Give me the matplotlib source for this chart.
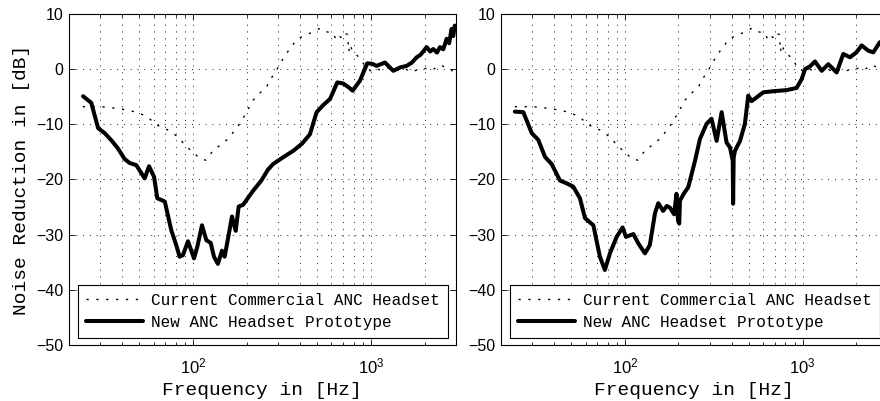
import matplotlib
matplotlib.use('Agg')
import matplotlib.pyplot as plt
from matplotlib.ticker import LogLocator, NullFormatter, FixedLocator

plt.rcParams['font.family'] = ['Liberation Sans', 'DejaVu Sans']
plt.rcParams['mathtext.fontset'] = 'custom'
plt.rcParams['mathtext.rm'] = 'Liberation Sans'

# commercial headset (same curve in both panels)
comm_f = [24, 26, 30, 35, 42.5, 48, 52.6, 57, 62.5, 70, 77.5, 85, 92, 100, 109, 118,
          130, 142, 155, 170, 184, 200, 218, 238, 259, 277, 295, 315, 336, 358, 382,
          410, 440, 474, 517, 560, 614, 640, 669, 700, 720, 740, 750, 765, 780, 810,
          849, 900, 946, 1000, 1060, 1124, 1200, 1335, 1450, 1560, 1656, 1800, 2055,
          2200, 2443, 2650, 2840, 2950, 3000]
comm_v = [-6.8, -6.8, -6.8, -7.0, -7.4, -7.8, -8.3, -9.0, -10.1, -10.8, -11.6, -12.8,
          -14.1, -15.0, -16.2, -16.5, -14.7, -13.8, -12.8, -11.3, -9.8, -7.8, -5.6,
          -4.3, -3.2, -1.5, -0.15, 1.5, 2.9, 4.1, 5.3, 5.9, 6.3, 6.8, 7.4, 6.8, 6.5,
          5.2, 5.9, 5.5, 6.4, 6.3, 3.2, 4.5, 3.6, 2.8, 2.3, 1.2, 0.15, -0.3, 0.2,
          -0.15, 0.2, 0.15, -0.3, 0.1, -0.5, -0.2, 0.15, -0.2, 0.75, 0.3, -0.15,
          -1.0, -0.8]

# new prototype, left panel
left_f = [24.1, 26.8, 29.3, 31.9, 35, 37.9, 41.3, 44, 48, 53.5, 56.6, 60.4, 63, 69.4,
          75.5, 80.5, 84.1, 87.8, 93.7, 101.3, 105.7, 112.3, 118.8, 125.7, 131.2, 138,
          145.5, 150.6, 157.3, 165.6, 173.7, 180.6, 191, 217, 242, 264, 282, 320, 366,
          410, 454, 495, 540, 589, 647, 699, 750, 789, 867, 953, 1010, 1076, 1199,
          1335, 1456, 1588, 1700, 1807, 1900, 2057, 2150, 2240, 2350, 2443, 2550,
          2663, 2750, 2840, 2900, 2960, 3000]
left_v = [-4.9, -6.1, -10.7, -11.6, -13.0, -14.4, -16.3, -17.0, -17.4, -19.8, -17.6,
          -19.5, -23.4, -24.0, -29.2, -31.9, -34.0, -33.7, -31.2, -34.3, -32.2, -28.3,
          -31.0, -31.5, -34.0, -35.3, -32.9, -34.0, -30.7, -26.7, -29.3, -24.9, -24.6,
          -22.1, -20.2, -18.2, -17.2, -16.0, -14.8, -13.5, -11.8, -7.8, -6.5, -5.4,
          -2.4, -2.6, -3.3, -3.9, -2.1, 1.05, 1.0, 0.6, 1.2, -0.3, 0.3, 0.6, 1.2,
          2.15, 2.6, 4.0, 3.2, 3.65, 3.0, 4.0, 3.6, 5.5, 4.7, 7.3, 6.0, 7.9, 7.5]

# new prototype, right panel
right_f = [24.0, 26.8, 29.9, 32.5, 35.5, 38.7, 43.1, 47, 51.2, 55.8, 59.6, 66.4, 72.3,
           77.1, 82.3, 89.8, 97, 101.3, 111.5, 119, 129.6, 138, 147.6, 154, 164, 172,
           179, 189, 195, 199, 202, 204, 215, 227, 248, 264, 288, 307, 328, 350, 373,
           390, 404, 406, 409, 416, 444, 473, 494, 516, 600, 683, 813, 925, 987, 1031,
           1100, 1173, 1279, 1394, 1553, 1692, 1845, 2000, 2146, 2339, 2495, 2720, 3000]
right_v = [-7.7, -7.8, -11.6, -12.8, -15.9, -17.2, -20.2, -20.7, -21.3, -23.4, -27.0,
           -28.3, -34.0, -36.4, -33.4, -30.4, -28.7, -30.4, -29.9, -31.6, -33.4, -31.9,
           -26.1, -24.3, -25.7, -24.8, -25.1, -26.3, -22.6, -27.5, -28.0, -23.8, -22.5,
           -21.4, -16.6, -12.7, -9.9, -9.0, -13.0, -7.8, -13.3, -14.2, -16.6, -24.4,
           -16.0, -14.8, -13.0, -9.9, -4.8, -5.8, -4.2, -4.0, -3.8, -3.4, -1.8, 0.0,
           0.5, 1.4, -0.3, 0.9, -0.6, 2.75, 2.15, 3.0, 4.3, 3.35, 3.05, 4.9, 4.4]

yticks = [-50, -40, -30, -20, -10, 0, 10]
labels = ['Current Commercial ANC Headset', 'New ANC Headset Prototype']
mono = 'Liberation Mono'

fig = plt.figure(figsize=(8.8, 4.01), dpi=100)
ax1 = fig.add_axes([0.078, 0.1397, 0.44, 0.8254])
ax2 = fig.add_axes([0.569, 0.1397, 0.4395, 0.8254])

for ax, proto_v, proto_f in [(ax1, left_v, left_f), (ax2, right_v, right_f)]:
    ax.semilogx(comm_f, comm_v, color='k', lw=1.0, linestyle=(0, (1.6, 5.5)),
                label=labels[0])
    ax.semilogx(proto_f, proto_v, color='k', lw=2.9, solid_joinstyle='round',
                solid_capstyle='round', label=labels[1])
    ax.set_xlim(20, 3000)
    ax.set_ylim(-50, 10)
    ax.set_yticks(yticks)
    ax.xaxis.set_major_locator(FixedLocator([100, 1000]))
    ax.xaxis.set_minor_locator(LogLocator(base=10, subs=range(2, 10), numticks=20))
    ax.xaxis.set_minor_formatter(NullFormatter())
    ax.tick_params(which='both', direction='in', top=True, right=True,
                   labelsize=11.5, width=0.6)
    ax.tick_params(which='major', length=4, pad=4)
    ax.tick_params(which='minor', length=2)
    ax.tick_params(axis='x', which='major', pad=8, labelsize=12)
    ax.grid(True, which='major', color='0.1', lw=0.7, linestyle=(0, (1, 6)))
    ax.grid(True, which='minor', axis='x', color='0.1', lw=0.7, linestyle=(0, (1, 6)))
    for s in ax.spines.values():
        s.set_linewidth(0.8)
    ax.set_xlabel('Frequency in [Hz]', family=mono, fontsize=14, labelpad=4)
    leg = ax.legend(loc='lower left', bbox_to_anchor=(0.024, 0.021), borderaxespad=0,
                    prop={'family': mono, 'size': 11.5}, fancybox=False,
                    edgecolor='k', framealpha=1, handlelength=3.6, handletextpad=0.5,
                    borderpad=0.5, labelspacing=0.45)
    leg.get_frame().set_linewidth(0.8)

ax1.set_ylabel('Noise Reduction in [dB]', family=mono, fontsize=14, labelpad=4)

fig.savefig('out.png', dpi=100)
